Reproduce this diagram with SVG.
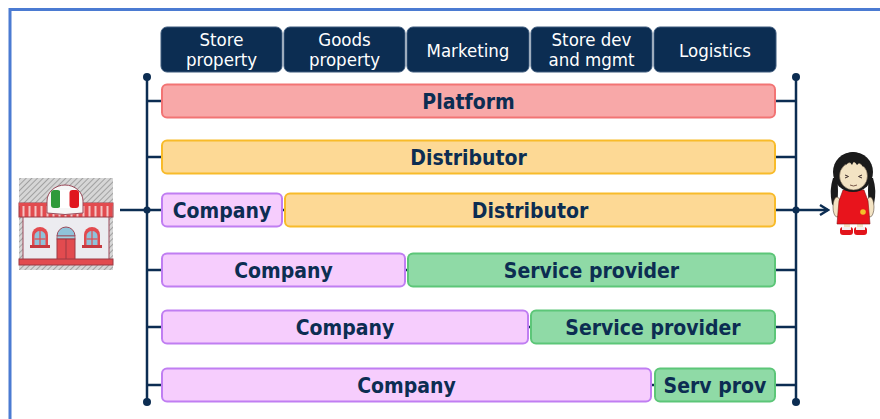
<svg xmlns="http://www.w3.org/2000/svg" width="880" height="419" viewBox="0 0 880 419">
  <style>
    .hdr rect { fill: #0c2d52; stroke: #3d5a7c; stroke-width: 1; }
    .hdr text { fill: #ffffff; font-family: "DejaVu Sans Condensed", "DejaVu Sans", sans-serif; font-size: 18.5px; text-anchor: middle; }
    .row text { fill: #0c2d52; font-family: "DejaVu Sans Condensed", "DejaVu Sans", sans-serif; font-weight: bold; font-size: 21px; text-anchor: middle; }
    .plat { fill: #f8a8a8; stroke: #f27474; stroke-width: 2; }
    .dist { fill: #fdd995; stroke: #f8bb2a; stroke-width: 2; }
    .comp { fill: #f6cdfd; stroke: #c07ef2; stroke-width: 2; }
    .serv { fill: #8fdaa6; stroke: #5cc678; stroke-width: 2; }
    .ln { stroke: #0c2d52; stroke-width: 2.5; fill: none; }
    .dot { fill: #0c2d52; }
  </style>
  <defs>
    <pattern id="hatch" width="4" height="4" patternUnits="userSpaceOnUse" patternTransform="rotate(45)">
      <rect width="4" height="4" fill="#d6d6d6"/>
      <line x1="0" y1="0" x2="0" y2="4" stroke="#8a8a8a" stroke-width="1.4"/>
    </pattern>
    <pattern id="awning" width="6" height="14" patternUnits="userSpaceOnUse" x="19">
      <rect width="6" height="14" fill="#e24b4f"/>
      <rect x="3.5" width="2" height="14" fill="#f4c4c4"/>
    </pattern>
    <marker id="chev" viewBox="0 0 12 12" refX="10" refY="6" markerWidth="12" markerHeight="12" markerUnits="userSpaceOnUse" orient="auto">
      <path d="M2,1 L10,6 L2,11" fill="none" stroke="#0c2d52" stroke-width="2.4" stroke-linejoin="miter"/>
    </marker>
  </defs>

  <!-- frame -->
  <rect x="10" y="9.5" width="900" height="430" fill="#ffffff" stroke="#4b7bd2" stroke-width="3"/>

  <!-- column headers -->
  <g id="hdr-store" class="hdr">
    <rect x="161" y="27" width="121" height="45" rx="6"/>
    <text x="221.5" y="46">Store</text>
    <text x="221.5" y="66">property</text>
  </g>
  <g id="hdr-goods" class="hdr">
    <rect x="284" y="27" width="121" height="45" rx="6"/>
    <text x="344.5" y="46">Goods</text>
    <text x="344.5" y="66">property</text>
  </g>
  <g id="hdr-marketing" class="hdr">
    <rect x="407" y="27" width="122" height="45" rx="6"/>
    <text x="468" y="57">Marketing</text>
  </g>
  <g id="hdr-storedev" class="hdr">
    <rect x="531" y="27" width="121" height="45" rx="6"/>
    <text x="591.5" y="46">Store dev</text>
    <text x="591.5" y="66">and mgmt</text>
  </g>
  <g id="hdr-logistics" class="hdr">
    <rect x="654" y="27" width="122" height="45" rx="6"/>
    <text x="715" y="57">Logistics</text>
  </g>

  <!-- connectors: buses, row links, input and output -->
  <g id="connectors">
    <line class="ln" x1="147" y1="77" x2="147" y2="402"/>
    <line class="ln" x1="796" y1="77" x2="796" y2="402"/>
    <line class="ln" x1="147" y1="101" x2="796" y2="101"/>
    <line class="ln" x1="147" y1="157" x2="796" y2="157"/>
    <line class="ln" x1="147" y1="210" x2="796" y2="210"/>
    <line class="ln" x1="147" y1="270" x2="796" y2="270"/>
    <line class="ln" x1="147" y1="327" x2="796" y2="327"/>
    <line class="ln" x1="147" y1="385" x2="796" y2="385"/>
    <line class="ln" x1="120" y1="210" x2="147" y2="210"/>
    <line class="ln" x1="796" y1="210" x2="828" y2="210" marker-end="url(#chev)"/>
    <circle class="dot" cx="147" cy="77" r="4"/>
    <circle class="dot" cx="796" cy="77" r="4"/>
    <circle class="dot" cx="147" cy="402" r="4"/>
    <circle class="dot" cx="796" cy="402" r="4"/>
    <circle class="dot" cx="147" cy="210" r="3.5"/>
    <circle class="dot" cx="796" cy="210" r="3.5"/>
  </g>

  <!-- rows -->
  <g id="row-platform" class="row">
    <rect class="plat" x="162" y="84.5" width="613" height="33" rx="5"/>
    <text x="468.5" y="109">Platform</text>
  </g>
  <g id="row-distributor" class="row">
    <rect class="dist" x="162" y="140.5" width="613" height="33" rx="5"/>
    <text x="468.5" y="165">Distributor</text>
  </g>
  <g id="row-company-distributor" class="row">
    <rect class="comp" x="162" y="193.5" width="120" height="33" rx="5"/>
    <text x="222" y="218">Company</text>
    <rect class="dist" x="285" y="193.5" width="490" height="33" rx="5"/>
    <text x="530" y="218">Distributor</text>
  </g>
  <g id="row-company-service-1" class="row">
    <rect class="comp" x="162" y="253.5" width="243" height="33" rx="5"/>
    <text x="283.5" y="278">Company</text>
    <rect class="serv" x="408" y="253.5" width="367" height="33" rx="5"/>
    <text x="591.5" y="278">Service provider</text>
  </g>
  <g id="row-company-service-2" class="row">
    <rect class="comp" x="162" y="310.5" width="366" height="33" rx="5"/>
    <text x="345" y="335">Company</text>
    <rect class="serv" x="531" y="310.5" width="244" height="33" rx="5"/>
    <text x="653" y="335">Service provider</text>
  </g>
  <g id="row-company-service-3" class="row">
    <rect class="comp" x="162" y="368.5" width="489" height="33" rx="5"/>
    <text x="406.5" y="393">Company</text>
    <rect class="serv" x="655" y="368.5" width="120" height="33" rx="5"/>
    <text x="715" y="393">Serv prov</text>
  </g>

  <!-- Italian shop icon -->
  <g id="shop">
    <rect x="19" y="178" width="94" height="92" fill="url(#hatch)"/>
    <!-- building -->
    <rect x="23" y="216" width="86" height="44" fill="#ececf0" stroke="#9b4a5a" stroke-width="1"/>
    <!-- awning -->
    <rect x="19" y="203" width="94" height="14" fill="url(#awning)" stroke="#9b3b45" stroke-width="1"/>
    <rect x="19" y="203" width="94" height="3" fill="#e24b4f"/>
    <!-- dome with flag -->
    <path d="M47,213 L47,201 A18,16 0 0 1 83,201 L83,213 Q65,216 47,213 Z" fill="#f6f6f6" stroke="#9b4a5a" stroke-width="1"/>
    <rect x="51" y="190" width="9.5" height="18" rx="3" fill="#2f9a3a"/>
    <rect x="60" y="190" width="10" height="18" fill="#ffffff"/>
    <rect x="69.5" y="190" width="9.5" height="18" rx="3" fill="#e0161e"/>
    <!-- windows -->
    <path d="M32,246 L32,235 A8,8 0 0 1 48,235 L48,246 Z" fill="#e24b4f"/>
    <path d="M34.5,245 L34.5,236 A5.5,5 0 0 1 45.5,236 L45.5,245 Z" fill="#8fc3da"/>
    <line x1="40" y1="231" x2="40" y2="245" stroke="#e24b4f" stroke-width="1.2"/>
    <line x1="34.5" y1="239" x2="45.5" y2="239" stroke="#e24b4f" stroke-width="1.2"/>
    <rect x="30" y="245" width="20" height="3" fill="#c63a40"/>
    <path d="M84,246 L84,235 A8,8 0 0 1 100,235 L100,246 Z" fill="#e24b4f"/>
    <path d="M86.5,245 L86.5,236 A5.5,5 0 0 1 97.5,236 L97.5,245 Z" fill="#8fc3da"/>
    <line x1="92" y1="231" x2="92" y2="245" stroke="#e24b4f" stroke-width="1.2"/>
    <line x1="86.5" y1="239" x2="97.5" y2="239" stroke="#e24b4f" stroke-width="1.2"/>
    <rect x="82" y="245" width="20" height="3" fill="#c63a40"/>
    <!-- door -->
    <path d="M57,236 A9,9 0 0 1 75,236 Z" fill="#8fc3da" stroke="#9b4a5a" stroke-width="1"/>
    <rect x="57" y="236" width="18" height="3" fill="#9fd0e0" stroke="#9b4a5a" stroke-width="0.8"/>
    <rect x="57" y="239" width="18" height="21" fill="#e24b4f" stroke="#9b3b45" stroke-width="1"/>
    <line x1="66" y1="239" x2="66" y2="260" stroke="#9b3b45" stroke-width="1"/>
    <!-- base -->
    <rect x="19" y="259" width="94" height="6" fill="#e24b4f" stroke="#9b3b45" stroke-width="1"/>
  </g>

  <!-- customer figure -->
  <g id="customer">
    <!-- braids -->
    <path d="M833,178 q-4,12 -1,26 q2,4 5,0 q2,-13 0,-26 Z" fill="#1b1b1b"/>
    <path d="M873,178 q4,12 1,26 q-2,4 -5,0 q-2,-13 0,-26 Z" fill="#1b1b1b"/>
    <!-- legs and shoes -->
    <rect x="844" y="221" width="6" height="8" fill="#f3e3c3"/>
    <rect x="857" y="221" width="6" height="8" fill="#f3e3c3"/>
    <rect x="840" y="227" width="13" height="8" rx="3" fill="#e2141b"/>
    <rect x="854" y="227" width="13" height="8" rx="3" fill="#e2141b"/>
    <rect x="842" y="227" width="9" height="3" fill="#f2f2f2"/>
    <rect x="856" y="227" width="9" height="3" fill="#f2f2f2"/>
    <!-- arms -->
    <ellipse cx="837" cy="207" rx="4" ry="10" fill="#f3e3c3" stroke="#5a4a3a" stroke-width="0.6"/>
    <ellipse cx="870" cy="207" rx="4" ry="10" fill="#f3e3c3" stroke="#5a4a3a" stroke-width="0.6"/>
    <!-- dress -->
    <path d="M843,190 L864,190 L868,201 L870,224 L837,224 L839,201 Z" fill="#e8141c" stroke="#8a1010" stroke-width="0.6"/>
    <circle cx="863" cy="212" r="2.8" fill="#f3c02a"/>
    <!-- head -->
    <ellipse cx="853" cy="172" rx="20" ry="20" fill="#1b1b1b"/>
    <ellipse cx="853.5" cy="176" rx="14" ry="14" fill="#f3e3c3" stroke="#5a4a3a" stroke-width="0.5"/>
    <path d="M836,170 q0,-16 17,-18 q17,2 17,18 l-4,-7 l-3,4 l-3,-5 l-3,3 l-3,-4 l-2,4 l-3,-4 l-3,4 l-2,-4 l-3,5 l-2,-3 Z" fill="#1b1b1b"/>
    <path d="M845,175 l3.5,1.5 l-3.5,1.5 M862,175 l-3.5,1.5 l3.5,1.5" fill="none" stroke="#3a2a2a" stroke-width="1"/>
    <path d="M850,185 q3.5,2 7,0" fill="none" stroke="#7a5a4a" stroke-width="1"/>
  </g>
</svg>
